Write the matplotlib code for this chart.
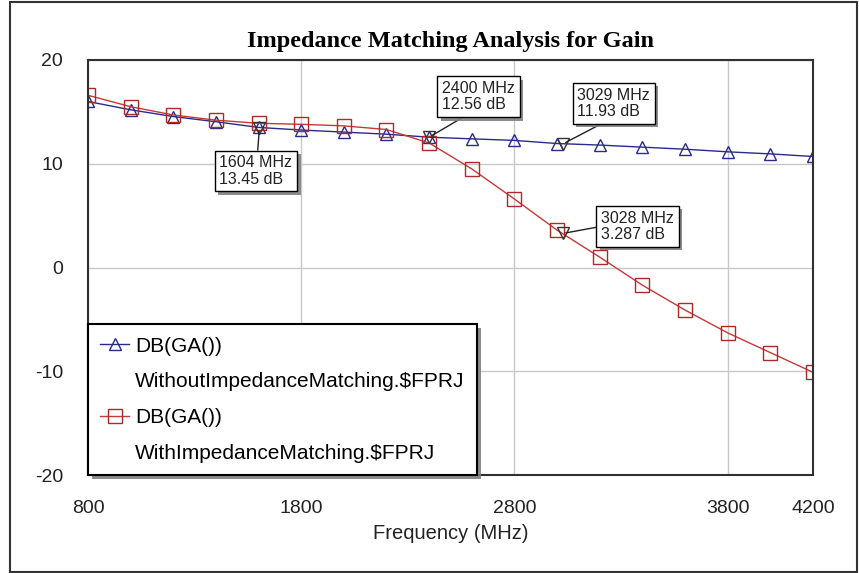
import matplotlib.pyplot as plt
import matplotlib.patheffects as pe
from matplotlib.lines import Line2D
from matplotlib.patches import Rectangle

plt.rcParams['font.family'] = ['Liberation Sans', 'DejaVu Sans']
plt.rcParams['axes.unicode_minus'] = False

# frequency points (MHz)
freq = [800, 1000, 1200, 1400, 1600, 1800, 2000, 2200, 2400,
        2600, 2800, 3000, 3200, 3400, 3600, 3800, 4000, 4200]
# DB(GA()) without / with impedance matching
gain_without = [16.0, 15.2, 14.55, 14.05, 13.5, 13.25, 13.05, 12.85, 12.56,
                12.4, 12.25, 11.95, 11.8, 11.6, 11.4, 11.15, 10.95, 10.7]
gain_with = [16.6, 15.5, 14.7, 14.2, 13.9, 13.8, 13.65, 13.3, 12.0,
             9.5, 6.6, 3.6, 1.0, -1.7, -4.1, -6.3, -8.2, -10.1]

# marker readouts
mark_freq = [1604, 2400, 3029, 3028]
mark_val = [13.45, 12.56, 11.93, 3.287]
mark_text = ["1604 MHz\n13.45 dB", "2400 MHz\n12.56 dB",
             "3029 MHz\n11.93 dB", "3028 MHz\n3.287 dB"]

xticks = [800, 1800, 2800, 3800, 4200]
yticks = [-20, -10, 0, 10, 20]

blue = '#2a2a8c'
red = '#c83838'

fig = plt.figure(figsize=(8.59, 5.73), dpi=100)
ax = fig.add_axes([0.1024, 0.1710, 0.8440, 0.7243])

ax.plot(freq, gain_without, color=blue, lw=1, marker='^', ms=8.6,
        mfc='none', mec=blue, mew=1)
ax.plot(freq, gain_with, color=red, lw=1, marker='s', ms=10,
        mfc='none', mec='#b02828', mew=1)

ax.plot(mark_freq, mark_val, linestyle='none', marker='v', ms=8,
        mfc='none', mec='#333333', mew=1, zorder=4)

# label box offsets (pixels) and where the leader leaves the box
offsets = [(-3.5, -43), (49.5, 40.5), (50.5, 40.5), (74.5, 7)]
rel = [(0.52, 1.0), (0.4, 0.0), (0.46, 0.0), (0.0, 0.5)]
for i in range(len(mark_freq)):
    ann = ax.annotate(mark_text[i], xy=(mark_freq[i], mark_val[i]),
                      xytext=offsets[i], textcoords='offset pixels',
                      ha='center', va='center', multialignment='left',
                      fontsize=11.5, color='#222222', linespacing=1.1,
                      bbox=dict(boxstyle='square,pad=0.3', fc='white',
                                ec='black', lw=1),
                      arrowprops=dict(arrowstyle='-', color='#222222', lw=1,
                                      relpos=rel[i], shrinkA=0, shrinkB=2),
                      zorder=6)
    ann.get_bbox_patch().set_path_effects(
        [pe.SimplePatchShadow(offset=(2.5, -2.5), shadow_rgbFace='#808080', alpha=0.9),
         pe.Normal()])

ax.set_xlim(800, 4200)
ax.set_ylim(-20, 20)
ax.set_xticks(xticks)
ax.set_yticks(yticks)
ax.tick_params(length=0, pad=18, labelsize=14, colors='#222222')
ax.grid(color='#c8c8c8', lw=1)
ax.set_axisbelow(True)
for s in ax.spines.values():
    s.set_color('#303030')
    s.set_linewidth(1.5)

ax.set_title("Impedance Matching Analysis for Gain", family='Liberation Serif',
             fontweight='bold', fontsize=17.5, pad=9)
ax.set_xlabel("Frequency (MHz)", fontsize=14.5, labelpad=5, color='#222222')

handles = [
    Line2D([], [], color=blue, lw=1, marker='^', ms=8.6, mfc='none', mec=blue,
           label='DB(GA())'),
    Line2D([], [], linestyle='none', label='WithoutImpedanceMatching.$FPRJ'),
    Line2D([], [], color=red, lw=1, marker='s', ms=10, mfc='none', mec='#b02828',
           label='DB(GA())'),
    Line2D([], [], linestyle='none', label='WithImpedanceMatching.$FPRJ'),
]
leg = ax.legend(handles=handles, loc='lower left', bbox_to_anchor=(0, 0),
                borderaxespad=0, fontsize=15, fancybox=False, framealpha=1,
                edgecolor='black', handlelength=1.35, handletextpad=0.3,
                borderpad=0.6, labelspacing=0.8)
leg.get_frame().set_linewidth(1.5)
leg.get_frame().set_path_effects(
    [pe.SimplePatchShadow(offset=(3, -3), shadow_rgbFace='#808080', alpha=0.9),
     pe.Normal()])
leg.set_zorder(7)

fig.patches.append(Rectangle((0.0116, 0.0017), 0.986, 0.9948,
                             transform=fig.transFigure, fill=False,
                             ec='#333333', lw=1.5))

fig.savefig('out.png', dpi=100)
